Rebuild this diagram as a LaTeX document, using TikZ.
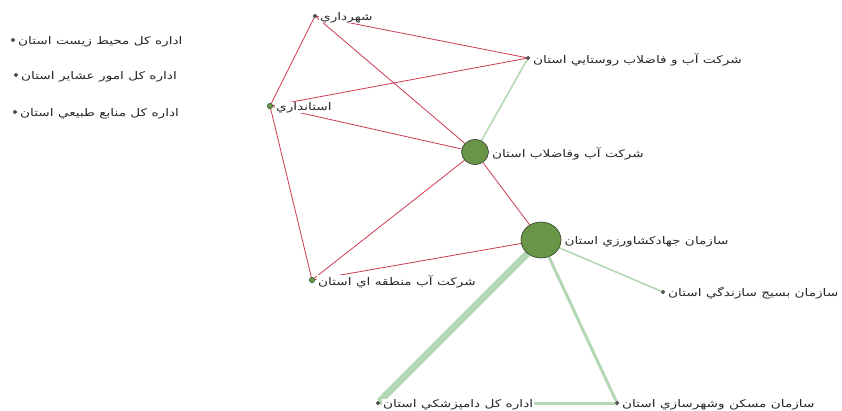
\documentclass[tikz,border=0pt]{standalone}
\usepackage{fontspec}
\newfontfamily\arabicfont[Script=Arabic, FakeStretch=1.3]{DejaVu Sans}
\TeXXeTstate=1
\usetikzlibrary{backgrounds,shapes.geometric}
\definecolor{edgered}{RGB}{204,60,80}
\definecolor{edgegreen}{RGB}{180,216,180}
\definecolor{nodegreen}{RGB}{104,150,70}
\definecolor{nodeborder}{RGB}{45,60,40}
\definecolor{txt}{RGB}{40,40,40}
\tikzset{
  lbl/.style={anchor=west, fill=white, inner xsep=1pt, inner ysep=0.5pt, text=txt,
    font=\arabicfont\fontsize{10.5}{12}\selectfont},
  gdot/.style={circle, fill=gray!70!black, draw=gray!40!black, line width=0.3pt, inner sep=0pt, minimum size=3.6pt},
  ggdot/.style={circle, fill=nodegreen, draw=nodeborder, line width=0.4pt, inner sep=0pt, minimum size=5.5pt},
  bignode/.style={ellipse, fill=nodegreen, draw=nodeborder, line width=0.6pt, inner sep=0pt},
  redge/.style={draw=edgered, line width=0.8pt},
  gedge/.style={draw=edgegreen, line width=1.6pt},
}
\begin{document}
\begin{tikzpicture}[x=1pt,y=-1pt]
\useasboundingbox (0,0) rectangle (842,410);
% nodes
\node[gdot] (env) at (13,40) {};
\node[gdot] (tribe) at (16,75) {};
\node[gdot] (natres) at (15,112) {};
\node[gdot] (shahr) at (315,16) {};
\node[gdot] (rustai) at (528,58) {};
\node[ggdot] (ostan) at (270,106) {};
\node[bignode, minimum width=27pt, minimum height=25pt] (abfa) at (475,152) {};
\node[bignode, minimum width=40pt, minimum height=36pt] (jihad) at (541,240) {};
\node[ggdot] (mantaqe) at (312,280) {};
\node[gdot] (basij) at (663,292) {};
\node[gdot] (dampez) at (378,403) {};
\node[gdot] (maskan) at (617,403) {};
% edges
\begin{pgfonlayer}{background}
\fill[white] (0,0) rectangle (842,410);
\draw[redge] (shahr) -- (rustai);
\draw[redge] (shahr) -- (abfa);
\draw[redge] (shahr) -- (ostan);
\draw[redge] (ostan) -- (rustai);
\draw[redge] (ostan) -- (abfa);
\draw[redge] (ostan) -- (mantaqe);
\draw[redge] (mantaqe) -- (abfa);
\draw[redge] (mantaqe) -- (jihad);
\draw[redge] (abfa) -- (jihad);
\draw[gedge] (rustai) -- (abfa);
\draw[gedge] (jihad) -- (basij);
\draw[draw=edgegreen, line width=7pt] (jihad) -- (dampez);
\draw[draw=edgegreen, line width=3pt] (jihad) -- (maskan);
\draw[draw=edgegreen, line width=3pt] (dampez) -- (maskan);
\end{pgfonlayer}
% labels
\tikzset{every node/.append style={yshift=-1.5pt}}
\node[lbl] (lenv) at ([xshift=2pt]env.east) {\beginR اداره کل محيط زيست استان\endR};
\node[lbl] (ltribe) at ([xshift=2pt]tribe.east) {\beginR اداره کل امور عشاير استان\endR};
\node[lbl] (lnatres) at ([xshift=2pt]natres.east) {\beginR اداره کل منابع طبيعي استان\endR};
\node[lbl] (lshahr) at ([xshift=2pt]shahr.east) {\beginR شهرداري\endR};
\node[lbl] (lrustai) at ([xshift=2pt]rustai.east) {\beginR شرکت آب و فاضلاب روستايي استان\endR};
\node[lbl] (lostan) at ([xshift=2pt]ostan.east) {\beginR استانداري\endR};
\node[lbl] (labfa) at ([xshift=2pt]abfa.east) {\beginR شرکت آب وفاضلاب استان\endR};
\node[lbl] (ljihad) at ([xshift=2pt]jihad.east) {\beginR سازمان جهادکشاورزي استان\endR};
\node[lbl] (lmantaqe) at ([xshift=2pt]mantaqe.east) {\beginR شرکت آب منطقه اي استان\endR};
\node[lbl] (lbasij) at ([xshift=2pt]basij.east) {\beginR سازمان بسيج سازندگي استان\endR};
\node[lbl] (ldampez) at ([xshift=2pt]dampez.east) {\beginR اداره کل دامپزشکي استان\endR};
\node[lbl] (lmaskan) at ([xshift=2pt]maskan.east) {\beginR سازمان مسکن وشهرسازي استان\endR};
\end{tikzpicture}
\end{document}
